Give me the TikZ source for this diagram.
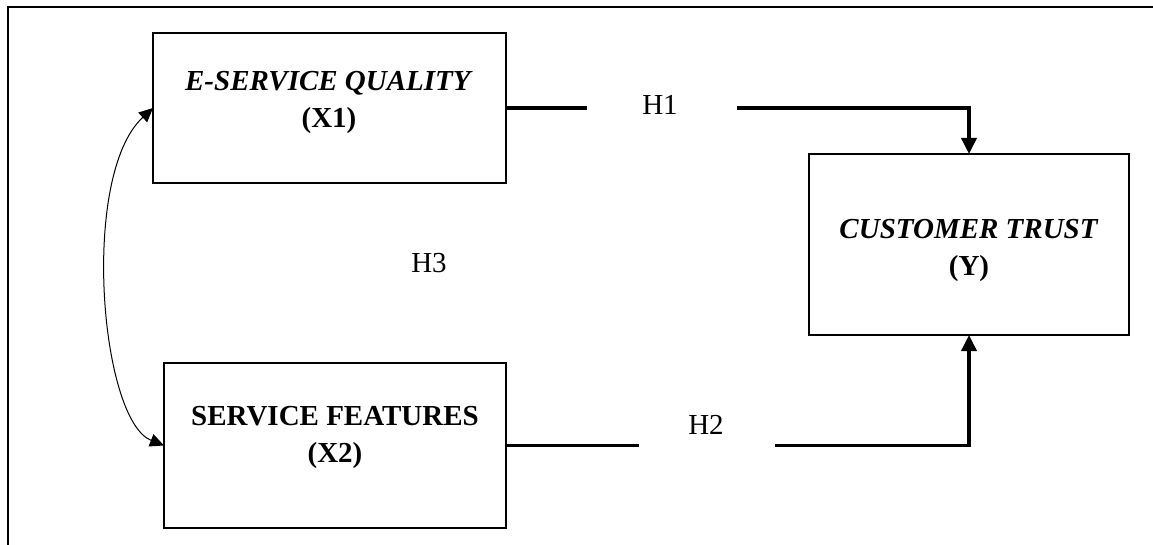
\documentclass[tikz,border=0pt]{standalone}
\usepackage{fontspec}
\setmainfont{Liberation Serif}
\usetikzlibrary{arrows.meta}
\begin{document}
\begin{tikzpicture}[x=1pt,y=-1pt,
  box/.style={draw,line width=2.5pt,inner sep=0pt,outer sep=0pt},
  conn/.style={line width=3.6pt},
  lab/.style={font=\fontsize{29}{37}\selectfont,align=center,inner sep=0pt},
  gapnode/.style={inner sep=0pt,outer sep=0pt,minimum height=1pt},
  tip/.style={-{Triangle[length=16pt,width=15pt]}},
  dtip/.style={{Triangle[length=14pt,width=13pt]}-{Triangle[length=14pt,width=13pt]}}]
\useasboundingbox (0,0) rectangle (1153,545);
% outer frame
\draw[line width=2pt] (8,545) -- (8,7) -- (1153,7);
% boxes
\node[box,minimum width=353pt,minimum height=150pt] (x1) at (329.5,108) {};
\node[box,minimum width=342pt,minimum height=165pt] (x2) at (335,445.5) {};
\node[box,minimum width=320pt,minimum height=181pt] (y) at (969,244.5) {};
% box texts
\node[lab] (x1t) at (329,102) {\textbf{\textit{E-SERVICE QUALITY}}\\\textbf{(X1)}};
\node[lab] (x2t) at (335,437) {\textbf{SERVICE FEATURES}\\\textbf{(X2)}};
\node[lab] (yt) at (969,250) {\textbf{\textit{CUSTOMER TRUST}}\\\textbf{(Y)}};
% gaps and labels
\node[gapnode,minimum width=150pt] (g1) at (662,108) {};
\node[gapnode,minimum width=136pt] (g2) at (707,445.5) {};
\node[lab] (h1) at (660,105) {H1};
\node[lab] (h2) at (706,425) {H2};
\node[lab] (h3) at (429,263) {H3};
% connectors
\draw[conn] (x1.east) -- (g1.west);
\draw[conn,tip] (g1.east) -| (y.north);
\draw[conn] (x2.east) -- (g2.west);
\draw[conn,tip] (g2.east) -| (y.south);
\draw[line width=1pt,dtip] (x1.west) .. controls (80,175) and (100,420) .. (x2.west);
\end{tikzpicture}
\end{document}
